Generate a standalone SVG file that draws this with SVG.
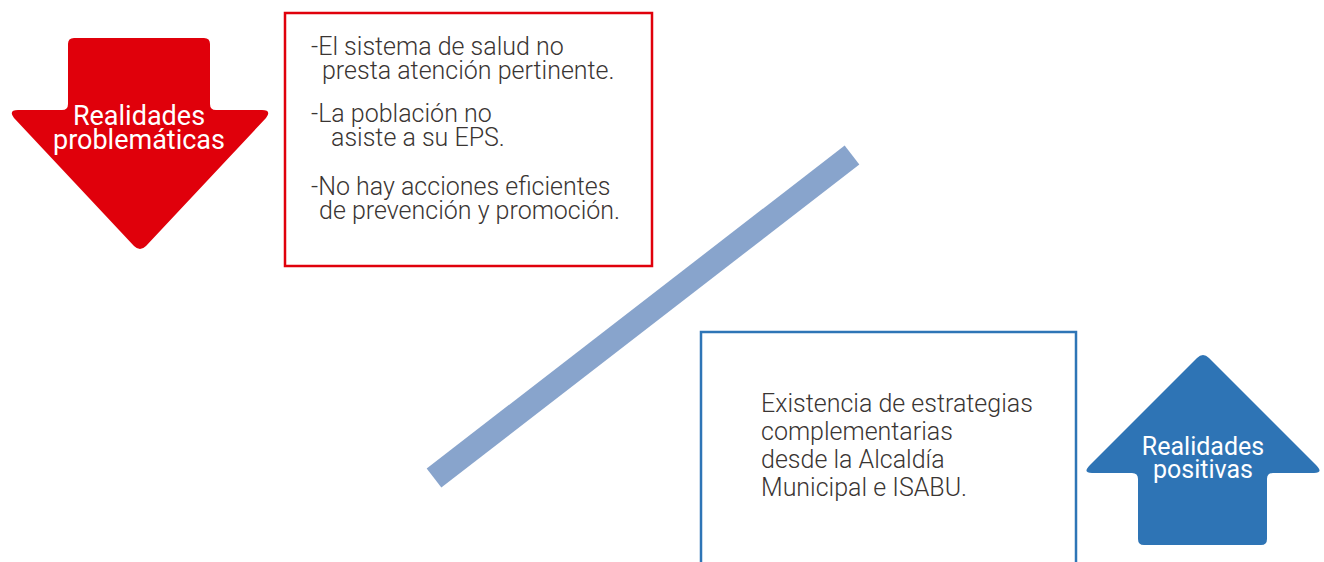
<svg xmlns="http://www.w3.org/2000/svg" width="1324" height="562" viewBox="0 0 1324 562">
<style>
.body{font-family:Roboto,"Liberation Sans",sans-serif;font-size:25px;fill:#3a3533;font-weight:300}
.lbl{font-family:Roboto,"Liberation Sans",sans-serif;font-size:27px;fill:#ffffff;text-anchor:middle}
</style>
<rect width="1324" height="562" fill="#ffffff"/>
<g id="connectors">
<line x1="434" y1="478" x2="852" y2="155" stroke="#88a4cc" stroke-width="24"/>
</g>
<g id="arrow-problematicas">
<path d="M74,38 H204 Q210,38 210,44 V104 Q210,110 216,110 H262 Q272,110 266,118 L146,246 Q140,252 134,246 L14,118 Q8,110 18,110 H62 Q68,110 68,104 V44 Q68,38 74,38 Z" fill="#e0000b"/>
<text class="lbl" x="139" y="125">Realidades</text>
<text class="lbl" x="139" y="149">problemáticas</text>
</g>
<g id="box-problemas">
<rect x="285" y="13" width="367" height="253" fill="none" stroke="#e0000b" stroke-width="2.5"/>
<text class="body" x="311" y="55">-El sistema de salud no</text>
<text class="body" x="322" y="79">presta atención pertinente.</text>
<text class="body" x="311" y="122">-La población no</text>
<text class="body" x="331" y="146">asiste a su EPS.</text>
<text class="body" x="311" y="195">-No hay acciones eficientes</text>
<text class="body" x="319" y="219">de prevención y promoción.</text>
</g>
<g id="box-positivas">
<rect x="701" y="332" width="375" height="240" fill="none" stroke="#2e75b6" stroke-width="2.5"/>
<text class="body" x="761" y="412">Existencia de estrategias</text>
<text class="body" x="761" y="440">complementarias</text>
<text class="body" x="761" y="468">desde la Alcaldía</text>
<text class="body" x="761" y="496">Municipal e ISABU.</text>
</g>
<g id="arrow-positivas">
<path d="M1197,358 Q1203,352 1209,358 L1316,465 Q1324,473 1314,473 H1273 Q1267,473 1267,479 V539 Q1267,545 1261,545 H1144 Q1138,545 1138,539 V479 Q1138,473 1132,473 H1092 Q1082,473 1090,465 Z" fill="#2e74b5"/>
<text class="lbl" x="1203" y="455" style="font-size:25px">Realidades</text>
<text class="lbl" x="1203" y="478" style="font-size:25px">positivas</text>
</g>
</svg>
